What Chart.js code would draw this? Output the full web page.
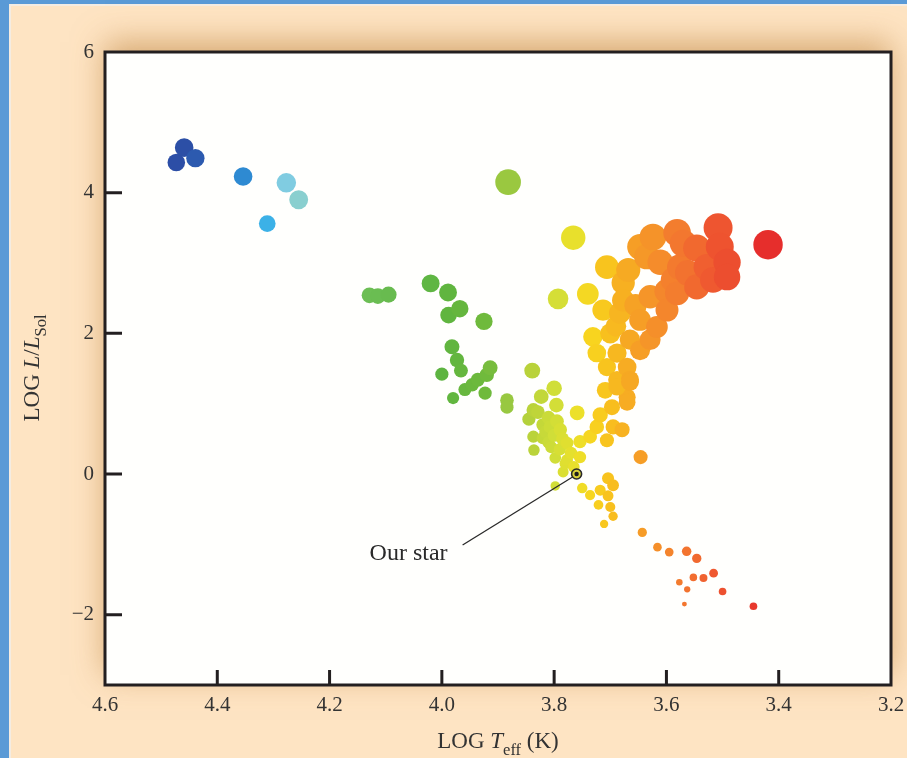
<!DOCTYPE html>
<html>
<head>
<meta charset="utf-8">
<script src="https://cdn.jsdelivr.net/npm/chart.js@4.4.1/dist/chart.umd.min.js"></script>
<style>
  html, body { margin: 0; padding: 0; background: #5a9ad6; }
  canvas { display: block; }
</style>
</head>
<body>
<canvas id="hr" width="907" height="758"></canvas>
<script>
// Tick labels of the two axes
const xTickLabels = [4.6, 4.4, 4.2, 4.0, 3.8, 3.6, 3.4, 3.2];
const yTickLabels = [-2, 0, 2, 4, 6];

// Stars as [LOG Teff, LOG L/Lsol]
const hotStars = [
    [4.459, 4.64], [4.473, 4.43], [4.439, 4.49], [4.354, 4.23],
    [4.277, 4.14], [4.255, 3.90], [4.311, 3.56]
];

const brightStars = [
    [3.882, 4.15], [3.766, 3.36], [3.793, 2.49]
];

const greenStars = [
    [4.129, 2.54], [4.114, 2.53], [4.095, 2.55], [4.020, 2.71], [3.989, 2.58],
    [3.968, 2.35], [3.988, 2.26], [3.925, 2.17], [3.982, 1.81], [3.973, 1.62],
    [3.966, 1.47], [4.000, 1.42], [3.914, 1.51], [3.920, 1.41], [3.936, 1.34],
    [3.946, 1.27], [3.959, 1.20], [3.980, 1.08], [3.923, 1.15], [3.884, 1.05],
    [3.884, 0.95]
];

const mainSequence = [
    [3.839, 1.47], [3.800, 1.22], [3.823, 1.10], [3.796, 0.98], [3.837, 0.91],
    [3.845, 0.78], [3.829, 0.88], [3.759, 0.87], [3.807, 0.67], [3.789, 0.63],
    [3.837, 0.53], [3.820, 0.51], [3.777, 0.44], [3.836, 0.34], [3.798, 0.23],
    [3.777, 0.20], [3.754, 0.24], [3.784, 0.03], [3.810, 0.45], [3.790, 0.35],
    [3.820, 0.70], [3.800, 0.55], [3.770, 0.30], [3.765, 0.10], [3.780, 0.15],
    [3.810, 0.80], [3.798, -0.17], [3.750, -0.20], [3.736, -0.30], [3.718, -0.23],
    [3.721, -0.44], [3.704, -0.06], [3.695, -0.16], [3.704, -0.31], [3.700, -0.47],
    [3.695, -0.60], [3.711, -0.71], [3.718, 0.84], [3.697, 0.95], [3.670, 1.02],
    [3.688, 1.24], [3.665, 1.31], [3.724, 0.67], [3.695, 0.67], [3.679, 0.63],
    [3.706, 0.48], [3.736, 0.53], [3.754, 0.46], [3.646, 0.24], [3.815, 0.60],
    [3.795, 0.75], [3.805, 0.38], [3.785, 0.50]
];

const giantBranch = [
    [3.740, 2.56], [3.706, 2.94], [3.668, 2.90], [3.624, 3.37], [3.581, 3.43],
    [3.508, 3.50], [3.419, 3.26], [3.546, 3.21], [3.492, 3.01], [3.635, 3.09],
    [3.611, 3.01], [3.576, 2.94], [3.528, 2.94], [3.546, 2.66], [3.581, 2.57],
    [3.629, 2.52], [3.599, 2.33], [3.677, 2.72], [3.677, 2.47], [3.713, 2.33],
    [3.683, 2.29], [3.647, 2.19], [3.617, 2.09], [3.731, 1.95], [3.700, 2.00],
    [3.665, 1.91], [3.629, 1.91], [3.724, 1.72], [3.688, 1.72], [3.647, 1.76],
    [3.706, 1.52], [3.670, 1.52], [3.688, 1.34], [3.665, 1.34], [3.709, 1.19],
    [3.670, 1.09], [3.517, 2.76], [3.492, 2.80], [3.562, 2.86], [3.588, 2.76],
    [3.647, 3.23], [3.570, 3.28], [3.505, 3.23], [3.690, 2.10], [3.655, 2.40],
    [3.600, 2.60]
];

const redDwarfs = [
    [3.643, -0.83], [3.616, -1.04], [3.595, -1.11], [3.564, -1.10], [3.546, -1.20],
    [3.577, -1.54], [3.563, -1.64], [3.552, -1.47], [3.534, -1.48], [3.516, -1.41],
    [3.500, -1.67], [3.568, -1.85], [3.445, -1.88]
];

const sun = [[3.76, 0.0]];

// --- Cor e tamanho dos pontos ---

// colour follows temperature (hot = blue, cool = red)
const colourStops = [
    [4.46, [44, 78, 166]], [4.35, [46, 140, 212]], [4.31, [60, 178, 232]],
    [4.27, [142, 210, 223]], [4.20, [120, 196, 150]], [4.13, [108, 190, 84]],
    [4.00, [93, 180, 64]], [3.92, [112, 186, 60]], [3.88, [156, 201, 64]],
    [3.84, [184, 210, 58]], [3.80, [208, 222, 56]], [3.76, [236, 224, 42]],
    [3.73, [248, 212, 31]], [3.70, [248, 192, 30]], [3.66, [246, 165, 36]],
    [3.62, [245, 145, 42]], [3.57, [243, 119, 47]], [3.52, [239, 90, 48]],
    [3.42, [230, 46, 44]]
];

function corDaEstrela(t) {
    if (t >= colourStops[0][0]) return 'rgb(' + colourStops[0][1].join(',') + ')';
    for (let i = 1; i < colourStops.length; i++) {
        const [t1, c1] = colourStops[i];
        const [t0, c0] = colourStops[i - 1];
        if (t >= t1) {
            const f = (t0 - t) / (t0 - t1);
            const c = c0.map((v, k) => Math.round(v + (c1[k] - v) * f));
            return 'rgb(' + c.join(',') + ')';
        }
    }
    return 'rgb(' + colourStops[colourStops.length - 1][1].join(',') + ')';
}

// dot size follows the star radius: log R = 0.5 log L - 2 (log T - log Tsun)
function raioDaEstrela(t, l) {
    const logR = 0.5 * l - 2 * (t - 3.76);
    return logR < 0 ? Math.max(1.8, 5.7 + 6 * logR) : 5.7 + 3.9 * logR;
}

function toPoints(list) {
    return list.map(([x, y]) => ({ x, y }));
}

function starDataset(list) {
    // cooler stars drawn last so they sit on top
    const sorted = list.slice().sort((a, b) => b[0] - a[0]);
    return {
        data: toPoints(sorted),
        backgroundColor: ctx => corDaEstrela(ctx.raw.x),
        borderWidth: 0,
        pointRadius: ctx => raioDaEstrela(ctx.raw.x, ctx.raw.y),
        pointHoverRadius: ctx => raioDaEstrela(ctx.raw.x, ctx.raw.y)
    };
}

const SERIF = '"Liberation Serif", "Times New Roman", serif';

// writes text made of pieces (italic, subscript) centred on x
function textoRico(ctx, parts, cx, baseline, size) {
    const fontOf = p => (p.italic ? 'italic ' : '') + (p.sub ? size * 0.72 : size) + 'px ' + SERIF;
    let total = 0;
    parts.forEach(p => { ctx.font = fontOf(p); total += ctx.measureText(p.t).width; });
    let x = cx - total / 2;
    ctx.textAlign = 'left';
    ctx.textBaseline = 'alphabetic';
    parts.forEach(p => {
        ctx.font = fontOf(p);
        ctx.fillText(p.t, x, baseline + (p.sub ? size * 0.3 : 0));
        x += ctx.measureText(p.t).width;
    });
}

// --- Plugins de desenho ---

const fundo = {
    id: 'fundo',
    beforeDraw(chart) {
        const { ctx, chartArea: a, width, height } = chart;
        ctx.save();
        // blue frame, thin light line, cream page
        ctx.fillStyle = '#5a9ad6';
        ctx.fillRect(0, 0, width, height);
        ctx.fillStyle = '#f4ece2';
        ctx.fillRect(9, 4, width - 9, height - 4);
        ctx.fillStyle = '#fee4c3';
        ctx.fillRect(11, 6, width - 11, height - 6);
        // soft shadow behind the plot box
        ctx.shadowColor = 'rgba(190, 130, 60, 0.6)';
        ctx.shadowBlur = 30;
        ctx.shadowOffsetY = -10;
        ctx.fillStyle = '#fffffd';
        ctx.fillRect(a.left, a.top, a.right - a.left, a.bottom - a.top);
        ctx.restore();
    }
};

const moldura = {
    id: 'moldura',
    afterDatasetsDraw(chart) {
        const { ctx, chartArea: a, scales } = chart;
        ctx.save();
        ctx.strokeStyle = '#231f20';
        ctx.lineWidth = 3;
        ctx.strokeRect(a.left, a.top, a.right - a.left, a.bottom - a.top);

        // tick marks point inwards
        ctx.beginPath();
        yTickLabels.forEach(v => {
            const y = scales.y.getPixelForValue(v);
            if (y <= a.top + 2) return;
            ctx.moveTo(a.left, y);
            ctx.lineTo(a.left + 17, y);
        });
        xTickLabels.forEach(v => {
            const x = scales.x.getPixelForValue(v);
            if (x <= a.left + 2 || x >= a.right - 2) return;
            ctx.moveTo(x, a.bottom);
            ctx.lineTo(x, a.bottom - 15);
        });
        ctx.stroke();

        // "Our star" pointer
        const sx = scales.x.getPixelForValue(sun[0][0]);
        const sy = scales.y.getPixelForValue(sun[0][1]);
        ctx.lineWidth = 1.3;
        ctx.strokeStyle = '#2a2a2a';
        ctx.beginPath();
        ctx.moveTo(sx - 4, sy + 3);
        ctx.lineTo(sx - 114, sy + 71);
        ctx.stroke();
        ctx.fillStyle = '#2a2a2a';
        ctx.font = '24px ' + SERIF;
        ctx.textAlign = 'left';
        ctx.fillText('Our star', sx - 207, sy + 86);

        // sun marker: ring with a dark centre
        ctx.beginPath();
        ctx.arc(sx, sy, 5, 0, Math.PI * 2);
        ctx.fillStyle = '#d9d23a';
        ctx.fill();
        ctx.lineWidth = 1.6;
        ctx.stroke();
        ctx.beginPath();
        ctx.arc(sx, sy, 2.2, 0, Math.PI * 2);
        ctx.fillStyle = '#1e1e1e';
        ctx.fill();

        // axis titles
        ctx.fillStyle = '#333';
        textoRico(ctx, [
            { t: 'LOG ' }, { t: 'T', italic: true }, { t: 'eff', sub: true }, { t: ' (K)' }
        ], (a.left + a.right) / 2, 748, 23);

        ctx.translate(39, 368);
        ctx.rotate(-Math.PI / 2);
        textoRico(ctx, [
            { t: 'LOG ' }, { t: 'L', italic: true }, { t: '/' }, { t: 'L', italic: true }, { t: 'Sol', sub: true }
        ], 0, 0, 23);
        ctx.restore();
    }
};

// --- Gráfico ---

new Chart(document.getElementById('hr'), {
    type: 'scatter',
    data: {
        datasets: [
            starDataset(hotStars),
            starDataset(greenStars),
            starDataset(mainSequence),
            starDataset(brightStars),
            starDataset(giantBranch),
            starDataset(redDwarfs)
        ]
    },
    options: {
        responsive: false,
        devicePixelRatio: 1,
        animation: false,
        layout: { padding: { left: 0, top: 52, right: 16, bottom: 0 } },
        plugins: {
            legend: { display: false },
            tooltip: { enabled: false }
        },
        scales: {
            x: {
                type: 'linear',
                reverse: true,
                min: 3.2,
                max: 4.6,
                grid: { display: false, drawTicks: false },
                border: { display: false },
                afterBuildTicks: s => { s.ticks = xTickLabels.map(v => ({ value: v })); },
                afterFit: s => {
                    s.height = 73;
                    // the end labels may hang outside the plot box
                    s.paddingLeft = 0;
                    s.paddingRight = 0;
                },
                ticks: {
                    padding: 8,
                    color: '#333',
                    font: { family: SERIF, size: 21 },
                    callback: v => v.toFixed(1)
                }
            },
            y: {
                type: 'linear',
                min: -3,
                max: 6,
                grid: { display: false, drawTicks: false },
                border: { display: false },
                afterBuildTicks: s => { s.ticks = yTickLabels.map(v => ({ value: v })); },
                afterFit: s => {
                    s.width = 105;
                    s.paddingTop = 0;
                    s.paddingBottom = 0;
                },
                ticks: {
                    padding: 11,
                    color: '#333',
                    font: { family: SERIF, size: 21 },
                    callback: v => (v < 0 ? '\u2212' + Math.abs(v) : String(v))
                }
            }
        }
    },
    plugins: [fundo, moldura]
});
</script>
</body>
</html>
